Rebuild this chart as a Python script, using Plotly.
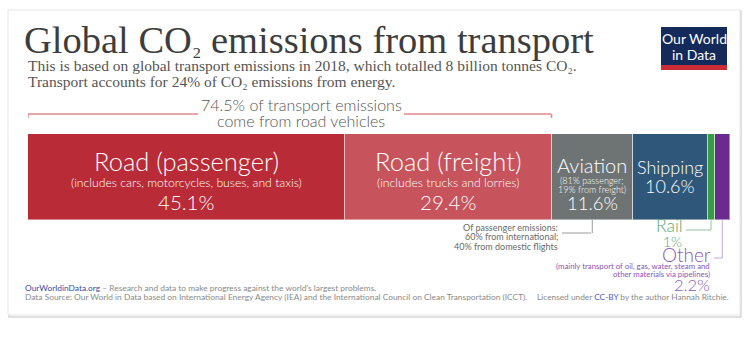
import plotly.graph_objects as go

W, H = 745, 339

# ---- data ----
categories = ["Road (passenger)", "Road (freight)", "Aviation", "Shipping", "Rail", "Other"]
shares = [45.1, 29.4, 11.6, 10.6, 1.0, 2.2]
share_labels = ["45.1%", "29.4%", "11.6%", "10.6%", "1%", "2.2%"]
colors = ["#b82b37", "#c7535c", "#6e7474", "#2f5779", "#3a9b47", "#6b2b8e"]
road_share_label = "74.5% of transport emissions<br>come from road vehicles"

def px(x):
    return x / W

def py(y):
    return 1 - y / H

total = sum(shares)
cum = []
c = 0
for s in shares:
    cum.append((c, c + s))
    c += s
mid = [(a + b) / 2 for a, b in cum]

fig = go.Figure()
for cat, s, col in zip(categories, shares, colors):
    fig.add_trace(go.Bar(
        x=[s], y=["Transport"], orientation="h", name=cat,
        marker=dict(color=col, line=dict(color="rgba(255,255,255,0.45)", width=1)),
        hoverinfo="name+x", showlegend=False,
    ))

shapes = []
annotations = []

def txt(text, x, y, size, color, xanchor="left", family="Lato", weight=None, xref="paper"):
    f = dict(family=family, size=size, color=color)
    if weight:
        f["weight"] = weight
    annotations.append(dict(text=text, xref=xref, yref="paper", x=x, y=py(y), xanchor=xanchor,
                            yanchor="middle", showarrow=False, align=xanchor if xanchor != "center" else "center",
                            font=f))

# card
shapes.append(dict(type="rect", xref="paper", yref="paper", x0=px(9), x1=px(741), y0=py(11), y1=py(317),
                   line=dict(color="#d6d6d6", width=1.5), fillcolor="rgba(0,0,0,0)", layer="below"))
shapes.append(dict(type="rect", xref="paper", yref="paper", x0=px(8), x1=px(740), y0=py(10), y1=py(315),
                   line=dict(color="#e6e6e6", width=1), fillcolor="white", layer="below"))

# logo
shapes.append(dict(type="rect", xref="paper", yref="paper", x0=px(661), x1=px(727), y0=py(27), y1=py(70),
                   line=dict(width=0), fillcolor="#132a5b"))
shapes.append(dict(type="rect", xref="paper", yref="paper", x0=px(661), x1=px(727), y0=py(65), y1=py(70),
                   line=dict(width=0), fillcolor="#cc2c36"))
txt("Our World", px(694), 38, 14, "white", xanchor="center")
txt("in Data", px(694), 54, 14, "white", xanchor="center")

# title & subtitle
txt("Global CO<span style='font-size:27px'>₂</span> emissions from transport", px(22), 40, 38.5, "#3d3d3d",
    family="Liberation Serif")
txt("This is based on global transport emissions in 2018, which totalled 8 billion tonnes CO₂.",
    px(26), 66, 15.5, "#555555", family="Liberation Serif")
txt("Transport accounts for 24% of CO₂ emissions from energy.",
    px(26), 82, 15.5, "#555555", family="Liberation Serif")

# road bracket
br = "#e3878d"
road_end = cum[1][1]
shapes += [
    dict(type="line", xref="x", yref="paper", x0=0, x1=0, y0=py(114), y1=py(118), line=dict(color=br, width=1.5)),
    dict(type="line", xref="paper", yref="paper", x0=px(28), x1=px(198), y0=py(114), y1=py(114), line=dict(color=br, width=1.5)),
    dict(type="line", xref="paper", yref="paper", x0=px(404), x1=px(551), y0=py(114), y1=py(114), line=dict(color=br, width=1.5)),
    dict(type="line", xref="x", yref="paper", x0=road_end, x1=road_end, y0=py(114), y1=py(118), line=dict(color=br, width=1.5)),
]
for line_text, yy in zip(road_share_label.split("<br>"), [104, 120]):
    txt(line_text, px(301), yy, 16, "#555555", xanchor="center", weight=300)

def bar_text(i, y, text, size):
    txt(text, mid[i], y, size, "white", xanchor="center", weight=300, xref="x")

bar_text(0, 161, categories[0], 25.5)
bar_text(0, 183, "(includes cars, motorcycles, buses, and taxis)", 12.2)
bar_text(0, 202, share_labels[0], 20.5)
bar_text(1, 161, categories[1], 25.5)
bar_text(1, 183, "(includes trucks and lorries)", 12.2)
bar_text(1, 202, share_labels[1], 20.5)
bar_text(2, 165, categories[2], 20)
bar_text(2, 180, "(81% passenger;", 9)
bar_text(2, 189, "19% from freight)", 9)
bar_text(2, 203, share_labels[2], 18.5)
bar_text(3, 167, categories[3], 18)
bar_text(3, 186, share_labels[3], 18)

# aviation note
g = "#9a9a9a"
shapes += [
    dict(type="line", xref="x", yref="paper", x0=mid[2], x1=mid[2], y0=py(220), y1=py(233), line=dict(color=g, width=1)),
    dict(type="line", xref="paper", yref="paper", x0=px(562), x1=px(591), y0=py(233), y1=py(233), line=dict(color=g, width=1)),
]
for t, yy in zip(["Of passenger emissions:", "60% from international;", "40% from domestic flights"], [227, 236.5, 246]):
    txt(t, px(560), yy, 9, "#6a6a6a", xanchor="right")

# rail note
rc = "#62a56f"
shapes += [
    dict(type="line", xref="x", yref="paper", x0=mid[4], x1=mid[4], y0=py(220), y1=py(230), line=dict(color="#8fc49a", width=1)),
    dict(type="line", xref="paper", yref="paper", x0=px(686), x1=px(711), y0=py(230), y1=py(230), line=dict(color="#8fc49a", width=1)),
]
txt(categories[4], px(685), 225, 17.5, rc, xanchor="right", weight=300)
txt(share_labels[4], px(684), 241, 14, rc, xanchor="right", weight=300)

# other note
oc = "#8a55b5"
shapes += [
    dict(type="line", xref="x", yref="paper", x0=mid[5], x1=mid[5], y0=py(220), y1=py(258), line=dict(color="#c4a6dc", width=1)),
    dict(type="line", xref="paper", yref="paper", x0=px(714), x1=px(722), y0=py(258), y1=py(258), line=dict(color="#c4a6dc", width=1)),
]
txt(categories[5], px(713), 254, 19, oc, xanchor="right", weight=300)
txt("(mainly transport of oil, gas, water, steam and", px(712), 265.5, 7.8, oc, xanchor="right")
txt("other materials via pipelines)", px(712), 273.5, 7.8, oc, xanchor="right")
txt(share_labels[5], px(712), 284.5, 16.5, oc, xanchor="right", weight=300)

# footer
txt("<span style='color:#3b4aa3'>OurWorldinData.org</span> – Research and data to make progress against the world's largest problems.",
    px(23), 288, 8.4, "#8a8a8a")
txt("Data Source: Our World in Data based on International Energy Agency (IEA) and the International Council on Clean Transportation (ICCT).",
    px(23), 296.5, 8.4, "#8a8a8a")
txt("Licensed under <span style='color:#4a5bc4'>CC-BY</span> by the author Hannah Ritchie.",
    px(731), 297, 8.3, "#8a8a8a", xanchor="right")

fig.update_layout(
    width=W, height=H, margin=dict(l=0, r=0, t=0, b=0),
    paper_bgcolor="white", plot_bgcolor="white",
    barmode="stack", bargap=0,
    xaxis=dict(domain=[px(28), px(730)], range=[0, total], visible=False, fixedrange=True),
    yaxis=dict(domain=[py(220), py(134)], range=[-0.5, 0.5], visible=False, fixedrange=True),
    shapes=shapes, annotations=annotations,
    font=dict(family="Lato"),
)

fig.write_html("out.html")
